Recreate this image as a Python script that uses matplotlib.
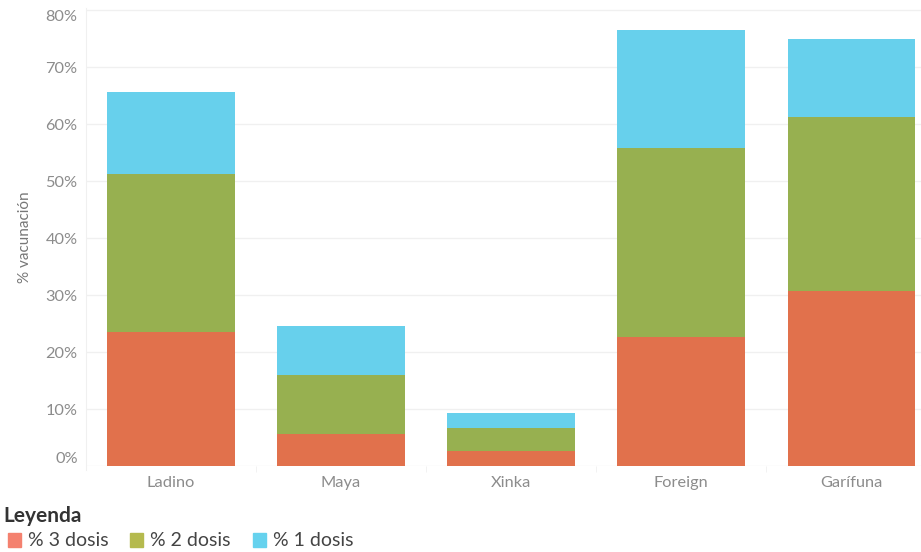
import numpy as np
import matplotlib.pyplot as plt
from matplotlib.patches import Rectangle

plt.rcParams['font.family'] = ['Lato', 'DejaVu Sans']

groups = ["Ladino", "Maya", "Xinka", "Foreign", "Garífuna"]
# segment heights (percentage points) of each stacked bar
dosis3 = [23.5, 5.7, 2.7, 22.6, 30.7]
dosis2 = [27.7, 10.3, 4.0, 33.2, 30.5]
dosis1 = [14.4, 8.6, 2.6, 20.7, 13.7]
series_labels = ["% 3 dosis", "% 2 dosis", "% 1 dosis"]

bar_colors = ["#E1714C", "#97B050", "#67D0EC"]
legend_colors = ["#F4816F", "#B5BA4E", "#66D2EE"]
grid_col = "#F0F0F0"
text_col = "#8C8C8C"

fig = plt.figure(figsize=(9.21, 5.52), dpi=100)
ax = fig.add_axes([86 / 921, (552 - 466) / 552, (921 - 86) / 921, (466 - 8) / 552])

x = np.arange(len(groups))
bottom = np.zeros(len(groups))
for vals, col in zip([dosis3, dosis2, dosis1], bar_colors):
    ax.bar(x, vals, width=0.75, bottom=bottom, color=col, zorder=3)
    bottom += np.array(vals)

ax.set_xlim(-0.5, 4.41)
ax.set_ylim(0, 80.4)
ax.set_yticks(np.arange(0, 81, 10))
ax.set_yticklabels([f"{v}%" for v in range(0, 81, 10)])
labels = ax.get_yticklabels()
labels[0].set_va('bottom')
labels[-1].set_va('top')
ax.set_xticks(x)
ax.set_xticklabels(groups)
ax.set_xticks(np.arange(0.5, 4.5, 1), minor=True)
ax.tick_params(axis='both', which='major', length=0, labelsize=11.8, labelcolor=text_col)
ax.tick_params(axis='y', pad=6)
ax.tick_params(axis='x', pad=7)
ax.tick_params(axis='x', which='minor', length=4, color=grid_col)
ax.grid(axis='y', color=grid_col, linewidth=1, zorder=0)

for s in ['top', 'right', 'bottom']:
    ax.spines[s].set_visible(False)
ax.spines['left'].set_color(grid_col)
ax.spines['left'].set_bounds(-0.7, 80.4)

ax.set_ylabel("% vacunación", fontsize=11, color="#777777", labelpad=10)

# legend below the chart
fig.text(3 / 921, 1 - 516 / 552, "Leyenda", fontsize=15, fontweight='bold',
         color="#333333", va='center', ha='left')
sq_x = [8, 130, 253]
for lbl, col, px in zip(series_labels, legend_colors, sq_x):
    fig.patches.append(Rectangle((px / 921, 1 - 547 / 552), 13 / 921, 14 / 552,
                                 transform=fig.transFigure, color=col))
    fig.text((px + 20) / 921, 1 - 541 / 552, lbl, fontsize=14, color="#444444",
             va='center', ha='left')

fig.savefig("out.png", dpi=100)
